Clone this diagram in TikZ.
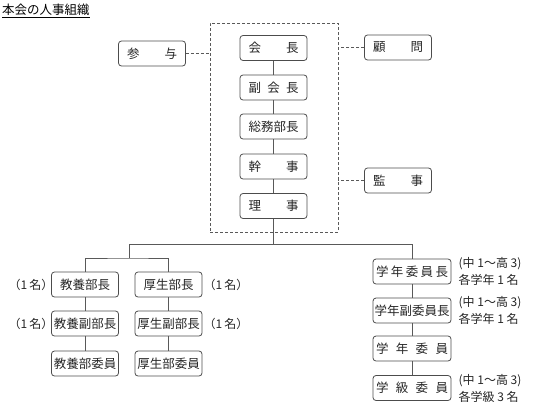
\documentclass[tikz,border=0pt]{standalone}
\usepackage{fontspec}
\setmainfont{Noto Sans CJK JP}
\begin{document}
\begin{tikzpicture}[x=1pt,y=-1pt,
  box/.style={draw=black!70, rounded corners=3pt, line width=0.8pt, minimum height=25pt, inner sep=0pt, font=\fontsize{12.5}{14}\selectfont, text=black!85},
  cbox/.style={box, minimum width=67pt},
  rbox/.style={box, minimum width=78pt},
  conn/.style={draw=black!65, line width=0.8pt},
  dconn/.style={draw=black!65, line width=0.8pt, dashed, dash pattern=on 3pt off 2pt},
  lbl/.style={font=\fontsize{12}{17}\selectfont, text=black!85, inner sep=0pt}]
\useasboundingbox (0,0) rectangle (540,415);
% title
\node[anchor=west, inner sep=0pt, font=\fontsize{12.5}{14}\selectfont] (title) at (2,11) {\underline{本会の人事組織}};
% dashed group
\node[draw=black!65, line width=0.8pt, dashed, dash pattern=on 3pt off 2pt, minimum width=128pt, minimum height=209pt, inner sep=0pt] (grp) at (274,127.5) {};
% center column
\node[cbox] (kai) at (273.5,48) {\makebox[50pt][s]{会\hfill{}長}};
\node[cbox] (fuku) at (273.5,87.5) {\makebox[50pt][s]{副\hfill{}会\hfill{}長}};
\node[cbox] (somu) at (273.5,126.5) {総務部長};
\node[cbox] (kanji) at (273.5,166.5) {\makebox[50pt][s]{幹\hfill{}事}};
\node[cbox] (riji) at (273.5,206) {\makebox[50pt][s]{理\hfill{}事}};
% side
\node[cbox] (sanyo) at (152,53.5) {\makebox[50pt][s]{参\hfill{}与}};
\node[cbox] (komon) at (398,47.5) {\makebox[50pt][s]{顧\hfill{}問}};
\node[cbox] (kansa) at (398,180.5) {\makebox[50pt][s]{監\hfill{}事}};
% left columns
\node[cbox] (kyo1) at (85,284.5) {教養部長};
\node[cbox] (kyo2) at (85,323.5) {教養副部長};
\node[cbox] (kyo3) at (85,363.5) {教養部委員};
\node[cbox] (kou1) at (168.5,284.5) {厚生部長};
\node[cbox] (kou2) at (168.5,323.5) {厚生副部長};
\node[cbox] (kou3) at (168.5,363.5) {厚生部委員};
% right column
\node[rbox] (gn1) at (412,271.5) {\makebox[72pt][s]{学\hfill{}年\hfill{}委\hfill{}員\hfill{}長}};
\node[rbox] (gn2) at (412,310.5) {学年副委員長};
\node[rbox] (gn3) at (412,348.5) {\makebox[72pt][s]{学\hfill{}年\hfill{}委\hfill{}員}};
\node[rbox] (gn4) at (412,388) {\makebox[72pt][s]{学\hfill{}級\hfill{}委\hfill{}員}};
% labels
\node[lbl] (l1) at (31,284.5) {（1\,名）};
\node[lbl] (l2) at (31,323.5) {（1\,名）};
\node[lbl] (l3) at (226,284.5) {（1\,名）};
\node[lbl] (l4) at (226,323.5) {（1\,名）};
\node[lbl, anchor=west, align=left] (r1) at ([xshift=7pt]gn1.east) {(中 1～高 3)\\各学年 1 名};
\node[lbl, anchor=west, align=left] (r2) at ([xshift=7pt]gn2.east) {(中 1～高 3)\\各学年 1 名};
\node[lbl, anchor=west, align=left] (r4) at ([xshift=7pt]gn4.east) {(中 1～高 3)\\各学級 3 名};
% connectors
\draw[conn] (kai) -- (fuku);
\draw[conn] (fuku) -- (somu);
\draw[conn] (somu) -- (kanji);
\draw[conn] (kanji) -- (riji);
\draw[dconn] (sanyo.east) -- (sanyo.east -| grp.west);
\draw[dconn] (komon.west) -- (komon.west -| grp.east);
\draw[dconn] (kansa.west) -- (kansa.west -| grp.east);
\coordinate (j1) at (273.5,244);
\coordinate (j2) at (129,244);
\coordinate (j3) at (129,258);
\draw[conn] (riji.south) |- (j2);
\draw[conn] (j1) -| (gn1.north);
\draw[conn] (j2) -- (j3);
\draw[conn] (kyo1.north) |- (j3) -| (kou1.north);
\draw[conn] (kyo1) -- (kyo2);
\draw[conn] (kyo2) -- (kyo3);
\draw[conn] (kou1) -- (kou2);
\draw[conn] (kou2) -- (kou3);
\draw[conn] (gn1) -- (gn2);
\draw[conn] (gn2) -- (gn3);
\draw[conn] (gn3) -- (gn4);
\end{tikzpicture}
\end{document}
